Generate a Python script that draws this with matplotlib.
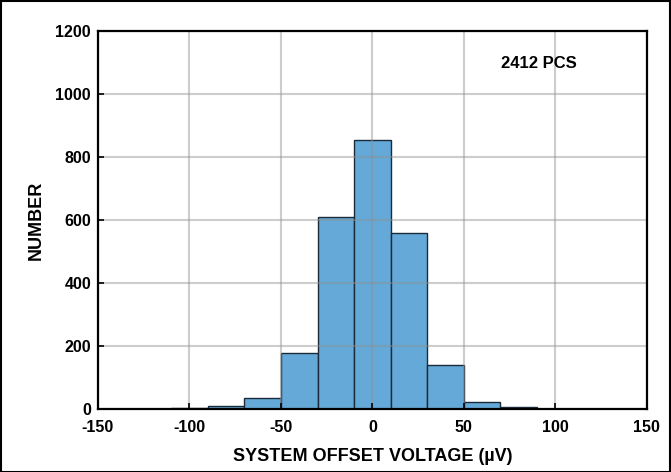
import matplotlib
matplotlib.use("Agg")
import matplotlib.pyplot as plt
from matplotlib.patches import Rectangle

# bin left edges (µV) and counts per 20 µV bin
bin_edges = [-110, -90, -70, -50, -30, -10, 10, 30, 50, 70, 90, 110]
counts = [2, 9, 34, 178, 609, 855, 558, 140, 21, 5, 1]
x_ticks = [-150, -100, -50, 0, 50, 100, 150]
y_ticks = [0, 200, 400, 600, 800, 1000, 1200]

FONT = ["Liberation Sans Narrow", "Liberation Sans", "DejaVu Sans"]

fig = plt.figure(figsize=(6.71, 4.72), dpi=100)
ax = fig.add_axes([0.146, 0.1335, 0.818, 0.801])

lefts = bin_edges[:-1]
widths = [b - a for a, b in zip(bin_edges[:-1], bin_edges[1:])]
ax.bar(lefts, counts, width=widths, align="edge",
       color="#64a9d8", edgecolor="#1c2b3a", linewidth=1.0, zorder=1)

ax.set_xlim(-150, 150)
ax.set_ylim(0, 1200)
ax.set_xticks(x_ticks)
ax.set_yticks(y_ticks)
ax.set_xticklabels([str(v) for v in x_ticks], fontfamily=FONT,
                   fontweight="bold", fontsize=11.5)
ax.set_yticklabels([str(v) for v in y_ticks], fontfamily=FONT,
                   fontweight="bold", fontsize=11.5)
ax.tick_params(direction="in", length=4, width=1.2, color="black")
ax.tick_params(axis="x", pad=8)
ax.tick_params(axis="y", pad=5)

ax.grid(True, color="#909090", alpha=0.45, linewidth=1.5, zorder=2)
ax.set_axisbelow(False)
for s in ax.spines.values():
    s.set_linewidth(1.6)
    s.set_zorder(3)

ax.set_xlabel("SYSTEM OFFSET VOLTAGE (µV)", fontfamily=FONT,
              fontweight="bold", fontsize=13, labelpad=9)
ax.set_ylabel("NUMBER", fontfamily=FONT, fontweight="bold",
              fontsize=13, labelpad=8)

ax.text(91, 1095, "2412 PCS", ha="center", va="center",
        fontfamily=FONT, fontweight="bold", fontsize=12, zorder=4)

# frame around the whole figure
fig.patches.append(Rectangle((0.001, 0.001), 0.998, 0.997,
                             transform=fig.transFigure, fill=False,
                             edgecolor="black", linewidth=1.5))

fig.savefig("out.png", dpi=100)
